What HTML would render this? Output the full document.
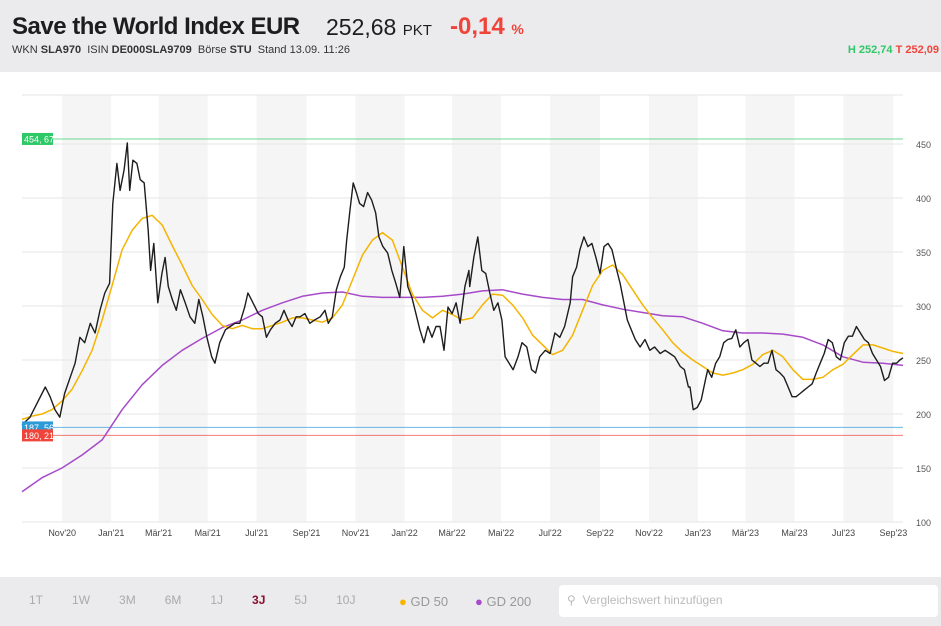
<!DOCTYPE html>
<html><head><meta charset="utf-8"><style>
body{margin:0;width:941px;height:626px;overflow:hidden;background:#fff;font-family:"Liberation Sans",sans-serif;position:relative}
#hdr{position:absolute;left:0;top:0;width:941px;height:72px;background:#ebebed}
#foot{position:absolute;left:0;top:577px;width:941px;height:49px;background:#ebebed}
.t{position:absolute;white-space:nowrap}
</style></head><body>
<div id="hdr">
<div class="t" style="left:12px;top:13px;font-size:24px;font-weight:bold;color:#1d1d1f;letter-spacing:-0.5px">Save the World Index EUR</div>
<div class="t" style="left:326px;top:14px;font-size:23px;color:#1d1d1f">252,68 <span style="font-size:15px">PKT</span></div>
<div class="t" style="left:450px;top:13px;font-size:24px;font-weight:bold;color:#f0443a">-0,14 <span style="font-size:14px">%</span></div>
<div class="t" style="left:12px;top:44px;font-size:11px;color:#333">WKN <b>SLA970</b> &nbsp;ISIN <b>DE000SLA9709</b> &nbsp;Börse <b>STU</b> &nbsp;Stand 13.09. 11:26</div>
<div class="t" style="right:2px;top:44px;font-size:11px;font-weight:bold"><span style="color:#2ec866">H 252,74</span> <span style="color:#f0443a">T 252,09</span></div>
</div>
<svg id="chart" width="941" height="577" style="position:absolute;left:0;top:0"></svg>
<div id="foot">
<div class="t" style="top:16px;left:29px;font-size:12px;color:#aaa;word-spacing:0">
<span>1T</span><span style="margin-left:29px">1W</span><span style="margin-left:29px">3M</span><span style="margin-left:29px">6M</span><span style="margin-left:29px">1J</span><span style="margin-left:29px;color:#8a0f2e;font-weight:bold">3J</span><span style="margin-left:29px">5J</span><span style="margin-left:29px">10J</span></div>
<div class="t" style="left:399px;top:17px;font-size:13px;color:#999"><span style="color:#f5b400">●</span> GD 50</div>
<div class="t" style="left:475px;top:17px;font-size:13px;color:#999"><span style="color:#a64ac9">●</span> GD 200</div>
<div style="position:absolute;left:559px;top:8px;width:379px;height:32px;background:#fff;border-radius:4px">
<div class="t" style="left:8px;top:8px;font-size:12px;color:#bbb">⚲ &nbsp;Vergleichswert hinzufügen</div></div>
</div>
<script>
const startDate=Date.UTC(2020,8,12), endDate=Date.UTC(2023,8,13);
const priceDays=[0,10,29,35,41,47,53,60,66,72,78,85,91,97,103,109,113,118,122,127,131,134,138,143,147,152,157,160,164,169,174,178,182,187,192,197,203,209,215,220,225,230,236,240,246,253,259,265,271,277,281,
284,290,294,299,304,309,315,321,326,331,336,341,346,352,358,364,371,377,381,386,391,396,401,404,408,412,416,420,425,430,435,440,444,449,455,460,465,470,475,480,485,490,495,500,505,510,515,520,525,530,535,540,545,551,556,
557,562,567,572,577,582,587,592,597,601,606,611,617,622,628,634,639,644,651,657,663,669,675,682,685,690,694,699,704,709,714,719,724,729,734,740,744,748,753,758,763,769,775,781,787,794,800,806,812,819,824,829,
831,835,840,845,850,853,858,863,868,873,878,883,888,893,898,903,908,913,918,923,928,933,938,943,948,953,958,963,968,973,978,983,988,993,998,1003,1008,1013,1018,1023,1028,1033,1038,1043,1048,1053,1058,1063,1068,1073,1078,1083,1088,1092,1096];
const price=[190,197,225,216,204,197,219,234,247,271,266,284,275,296,312,321,395,432,407,426,451,407,435,432,417,414,370,333,358,303,330,345,318,306,296,315,303,290,284,306,290,271,253,247,266,278,281,284,284,299,312,
308,299,293,290,271,278,284,287,296,287,281,290,290,293,284,287,290,296,284,290,315,327,336,361,389,414,405,395,392,405,398,386,364,355,349,333,321,308,355,318,308,293,278,266,281,271,281,281,259,299,293,303,284,318,333,
318,345,364,333,330,312,296,303,287,253,247,241,253,266,262,241,238,253,259,256,275,271,281,303,327,336,352,364,355,358,345,330,355,358,352,333,321,306,287,278,269,262,269,259,262,256,259,256,253,244,241,225,
225,204,206,213,231,241,234,247,253,266,269,270,278,262,266,269,250,247,244,247,247,259,241,238,234,225,216,216,219,222,225,228,238,247,256,269,266,253,250,266,272,272,281,275,269,266,256,250,244,231,234,247,247,250,252];
const gd50=[195,198,200,204,212,223,240,259,287,319,352,370,381,384,375,356,338,319,306,292,282,279,282,279,279,282,285,289,289,287,285,289,301,324,347,361,368,361,336,311,296,289,296,292,287,289,301,311,310,301,289,273,264,255,259,273,296,319,333,338,329,315,301,289,278,266,257,250,244,238,236,238,241,246,255,259,253,241,232,232,234,241,246,255,264,264,261,258,256];
const gd200=[128,141,150,162,176,204,227,245,259,270,280,287,296,303,309,312,313,309,308,308,308,309,311,314,315,311,308,306,306,301,297,294,291,290,284,277,275,275,274,271,264,253,248,247,245];
const yTicks=[100,150,200,250,300,350,400,450];
const months=["Nov'20","Jan'21","Mär'21","Mai'21","Jul'21","Sep'21","Nov'21","Jan'22","Mär'22","Mai'22","Jul'22","Sep'22","Nov'22","Jan'23","Mär'23","Mai'23","Jul'23","Sep'23"];
const monthDates=[[2020,10],[2021,0],[2021,2],[2021,4],[2021,6],[2021,8],[2021,10],[2022,0],[2022,2],[2022,4],[2022,6],[2022,8],[2022,10],[2023,0],[2023,2],[2023,4],[2023,6],[2023,8]];
const refLevels=[454.67,187.56,180.21];
const refLabels=["454, 67","187, 56","180, 21"];
const refColors=["#2ec866","#2d9ad8","#f0443a"];

const X0=22,X1=903,DAY=86400000;
const xs=t=>X0+(t-startDate)/(endDate-startDate)*(X1-X0);
const ys=v=>522-(v-100)*1.08;
const svg=document.getElementById('chart');const NS='http://www.w3.org/2000/svg';
function mk(tag,attrs,parent){const e=document.createElementNS(NS,tag);for(const k in attrs)e.setAttribute(k,attrs[k]);(parent||svg).appendChild(e);return e;}
for(let i=0;i<monthDates.length;i+=2){
 const a=xs(Date.UTC(monthDates[i][0],monthDates[i][1],1));
 const b=i+1<monthDates.length?xs(Date.UTC(monthDates[i+1][0],monthDates[i+1][1],1)):X1;
 const r=mk('rect',{x:a,y:95,width:b-a,height:427,fill:'#f5f5f5'});
 
 
}
const topBorder=mk('line',{x1:X0,x2:X1,y1:95,y2:95,stroke:'#e6e6e6'});


yTicks.forEach(v=>{
 const l=mk('line',{x1:X0,x2:X1,y1:ys(v),y2:ys(v),stroke:'#e6e6e6'});
 
 
 const t=mk('text',{x:916,y:ys(v)+4,'font-size':9,fill:'#555','font-family':'Liberation Sans'});t.textContent=v;
 
 
});
months.forEach((m,i)=>{
 const x=xs(Date.UTC(monthDates[i][0],monthDates[i][1],1));
 const t=mk('text',{x:x,y:536,'font-size':9,fill:'#444','text-anchor':'middle','font-family':'Liberation Sans'});t.textContent=m;
 
 
});
refLevels.forEach((v,i)=>{
 const l=mk('line',{x1:X0,x2:X1,y1:ys(v),y2:ys(v),stroke:refColors[i],'stroke-width':1,'stroke-opacity':0.7});
 
 
});
function series(arr,times,color,w,name){
 const d=arr.map((v,i)=>(i?'L':'M')+xs(times(i)).toFixed(1)+','+ys(v).toFixed(1)).join('');
 const p=mk('path',{d:d,fill:'none',stroke:color,'stroke-width':w,'stroke-linejoin':'round'});
 
 
}
series(gd200,i=>startDate+i/(gd200.length-1)*(endDate-startDate),'#a64ac9',1.5,'gd200-line');
series(gd50,i=>startDate+i/(gd50.length-1)*(endDate-startDate),'#f5b400',1.5,'gd50-line');
series(price,i=>startDate+priceDays[i]*DAY,'#1d1d1f',1.4,'price-line');
refLevels.forEach((v,i)=>{
 const r=mk('rect',{x:22,y:ys(v)-6,width:31,height:12,fill:refColors[i]});
 
 
 const t=mk('text',{x:24,y:ys(v)+3.5,'font-size':9,fill:'#fff','font-family':'Liberation Sans'});t.textContent=refLabels[i];
 
 
});
</script>
</body></html>
